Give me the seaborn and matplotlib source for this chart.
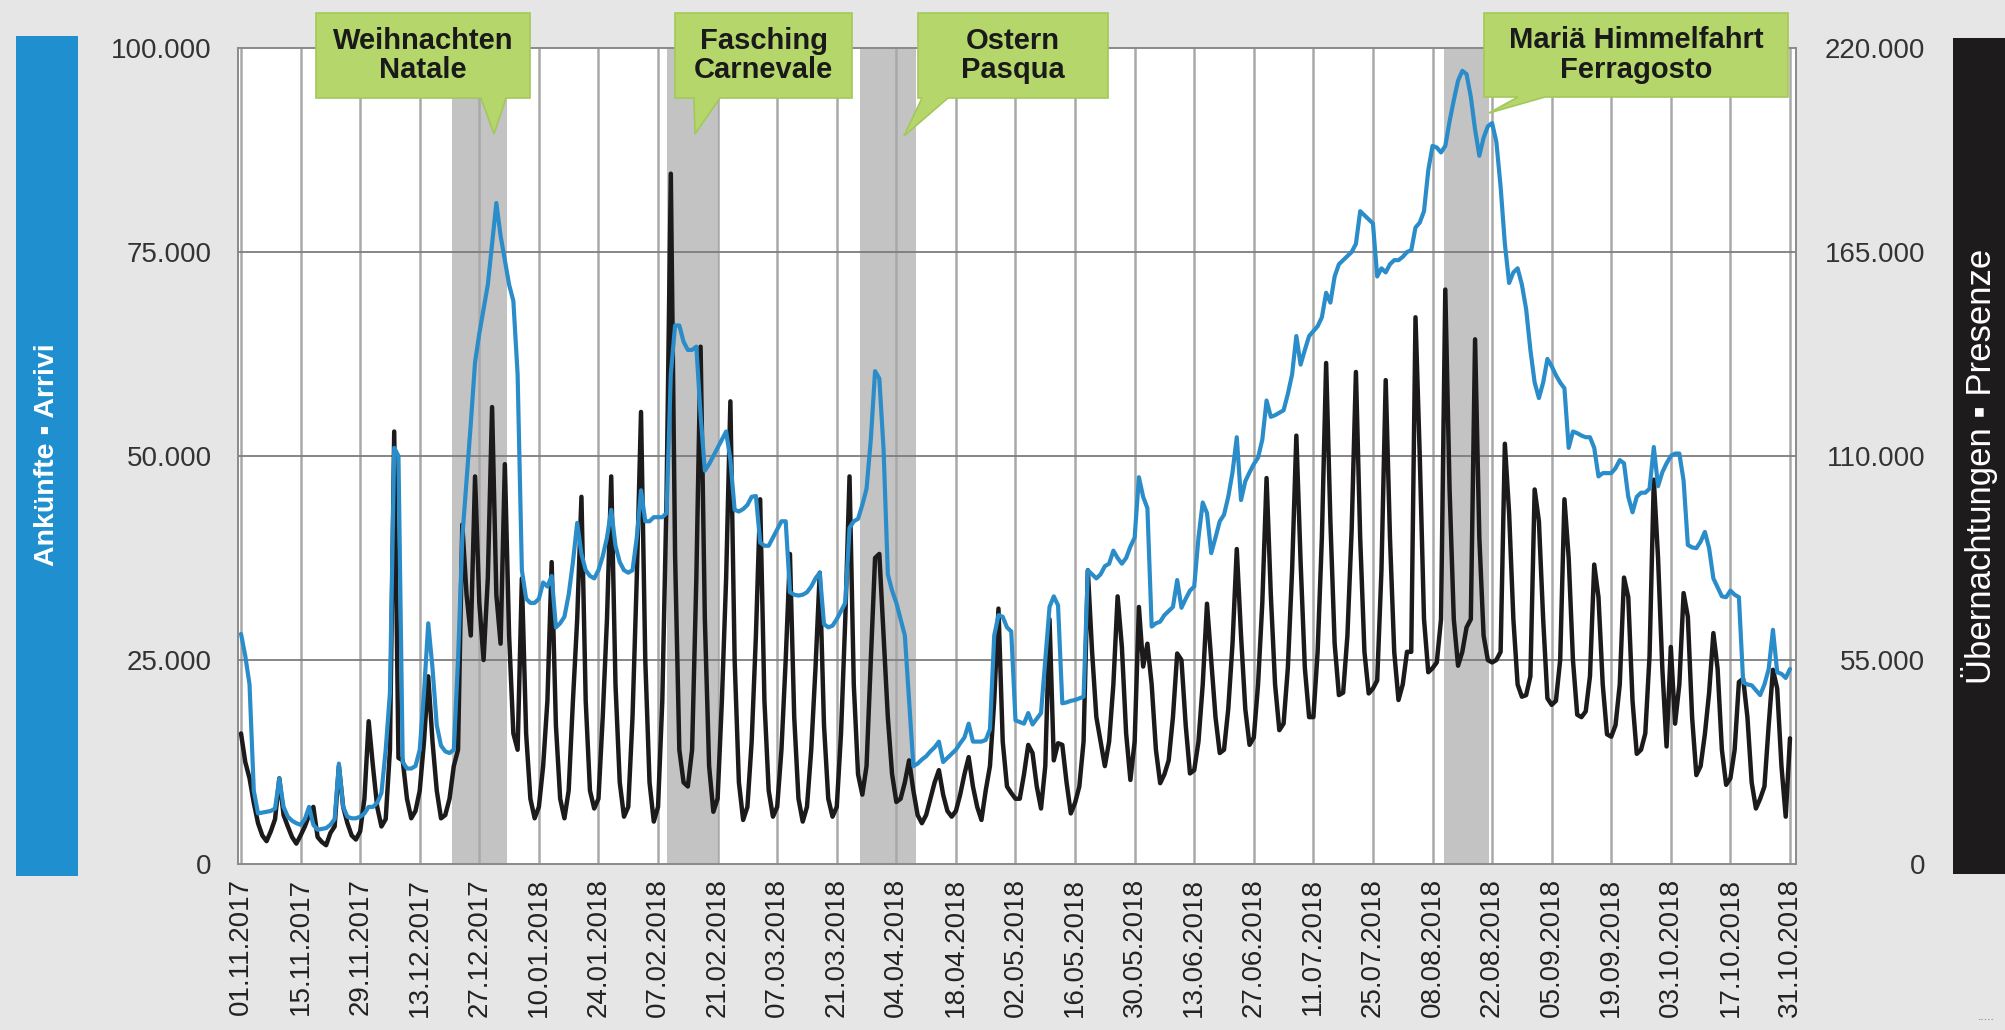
import pandas as pd
import matplotlib
matplotlib.use("Agg")
import matplotlib.pyplot as plt
from matplotlib.patches import Polygon, Rectangle
import seaborn as sns

# daily values, 01.11.2017 - 31.10.2018, in thousands (read against the left scale)
# one row = one week, Wed..Tue
blue_line = [
    28.2, 25.5, 22, 9, 6.2, 6.3, 6.4,
    6.5, 6.8, 10.5, 7, 5.8, 5.3, 5,
    4.8, 5.5, 7, 4.8, 4.2, 4.3, 4.4,
    4.8, 5.5, 12.3, 7, 5.8, 5.6, 5.6,
    5.8, 6.2, 7, 7, 7.5, 8.7, 14,
    21, 51, 50, 12.5, 11.7, 11.7, 12,
    14, 21, 29.5, 24, 17, 14.5, 13.8,
    13.6, 14, 25, 40, 47, 54, 61.5,
    65, 68, 71, 76, 81, 77, 74,
    71, 69, 60, 36, 32.5, 32, 32,
    32.5, 34.5, 34, 35.3, 29, 29.5, 30.3,
    33, 37, 41.8, 38, 36, 35.3, 35,
    36, 37.7, 40, 43.4, 39, 37, 36,
    35.7, 36, 40, 45.8, 42, 42, 42.5,
    42.5, 42.5, 43, 60, 66, 66, 64,
    63, 63, 63.4, 55, 48.2, 49, 50,
    51, 52, 53, 49.5, 43.4, 43.2, 43.5,
    44, 45, 45.1, 39.4, 39, 39, 40,
    41, 42, 42, 33.3, 33, 32.9, 33,
    33.3, 34, 35, 35.7, 29.4, 29, 29.2,
    30, 31, 32, 41.2, 42, 42.3, 44,
    46, 52, 60.4, 59.5, 50.8, 35.5, 33.5,
    32, 30, 28, 20, 12, 12.3, 12.8,
    13.2, 13.8, 14.3, 15, 12.5, 13, 13.5,
    14, 14.8, 15.5, 17.2, 15, 15, 15,
    15.2, 16.5, 28, 30.5, 30.3, 29, 28.5,
    17.6, 17.4, 17.2, 18.5, 17.1, 17.8, 18.5,
    25, 31.5, 32.8, 31.7, 19.7, 19.8, 20,
    20.1, 20.3, 20.5, 36, 35.5, 35, 35.5,
    36.5, 36.8, 38.4, 37.5, 36.8, 37.5, 38.9,
    40, 47.4, 45, 43.6, 29.1, 29.5, 29.7,
    30.5, 31, 31.5, 34.8, 31.4, 32.5, 33.5,
    34, 40, 44.3, 43, 38.1, 40, 42,
    42.8, 45, 48, 52.3, 44.6, 46.9, 48,
    49, 49.8, 52, 56.8, 54.8, 55, 55.3,
    55.6, 57.6, 60, 64.7, 61.2, 63, 64.7,
    65.3, 65.9, 67, 70, 68.8, 72, 73.5,
    74, 74.5, 75, 76, 80, 79.5, 79,
    78.5, 72, 73, 72.5, 73.5, 74, 74,
    74.4, 75, 75.2, 78, 78.6, 80, 85,
    88, 87.8, 87.2, 88, 91, 93.6, 96,
    97.2, 96.8, 94, 90, 86.8, 89, 90.4,
    90.8, 88.5, 83, 76, 71.2, 72.5, 73,
    71, 68, 63, 59, 57.1, 59, 61.9,
    61, 59.9, 59, 58.3, 51, 53, 52.8,
    52.5, 52.3, 52.3, 51, 47.5, 47.9, 47.9,
    47.9, 48.5, 49.5, 49.1, 45, 43.1, 45,
    45.5, 45.5, 46, 51.1, 46.3, 48, 49.1,
    50, 50.3, 50.3, 47, 39.1, 38.8, 38.7,
    39.5, 40.7, 38.7, 35, 33.9, 32.8, 32.7,
    33.5, 33, 32.7, 22.3, 22, 21.9, 21.3,
    20.7, 22, 23.9, 28.7, 23.5, 23.3, 22.8,
    23.9,
]

black_line = [
    16, 12.5, 10.5, 7.5, 5, 3.5, 2.8,
    4, 5.5, 10.5, 6, 4.6, 3.3, 2.5,
    3.5, 4.6, 6, 7, 3.3, 2.7, 2.3,
    3.8, 4.6, 12, 7, 5, 3.5, 3,
    4, 8, 17.5, 12, 7, 4.6, 5.5,
    14, 53, 13, 12.7, 8, 5.6, 6.5,
    9, 15, 23, 15, 9, 5.6, 6,
    8, 12, 14, 41.6, 33, 28, 47.5,
    32, 25, 35, 56, 33, 27, 49,
    28, 16, 14, 35, 16, 8, 5.6,
    7, 12, 20, 37, 17, 8, 5.6,
    9, 20, 30, 45, 20, 9, 6.8,
    8, 18, 30, 47.5, 22, 10, 5.8,
    7, 18, 35, 55.4, 25, 10, 5.2,
    7, 20, 45, 84.6, 38, 14, 10,
    9.5, 14, 35, 63.4, 30, 12, 6.4,
    8, 20, 35, 56.7, 25, 10, 5.4,
    7, 15, 28, 44.7, 20, 9, 5.8,
    7, 14, 25, 38, 18, 8, 5.2,
    7, 14, 24, 35.7, 17, 8, 5.8,
    7, 16, 30, 47.5, 22, 11, 8.5,
    12, 25, 37.5, 38, 28, 18, 11,
    7.6, 8, 10, 12.7, 9, 6, 5,
    6, 8, 10, 11.5, 8.5, 6.5, 5.8,
    6.5, 8.5, 11, 13.1, 9.5, 7, 5.4,
    9, 12, 20, 31.3, 15, 9.5, 8.7,
    8, 8, 11, 14.6, 13.6, 9.5, 6.8,
    12, 30, 12.7, 14.8, 14.6, 10, 6.2,
    7.5, 9.5, 15, 36, 26, 18, 15,
    12, 15, 22, 32.8, 26.6, 16, 10.3,
    15, 31.5, 24.2, 27, 22, 14, 9.9,
    11, 12.7, 18, 25.8, 25, 17, 11.1,
    11.5, 15, 22, 31.9, 25, 18, 13.6,
    14, 19, 27, 38.6, 28, 19, 14.6,
    15.5, 22, 32, 47.3, 33, 22, 16.4,
    17.2, 24, 36, 52.5, 37, 24, 18,
    18, 26, 40, 61.4, 42, 27, 20.7,
    21, 28, 41, 60.3, 40, 26, 20.9,
    21.5, 22.5, 36, 59.3, 40, 26, 20.1,
    22, 26, 26, 67, 50, 30, 23.5,
    24, 24.7, 30, 70.4, 46, 30, 24.3,
    26, 29, 30, 64.3, 40, 28, 25,
    24.7, 25, 26, 51.5, 43, 30, 22,
    20.5, 20.7, 23, 45.9, 42, 30, 20.3,
    19.5, 20, 25, 44.7, 37.5, 25, 18.3,
    18, 18.7, 23, 36.7, 32.7, 22, 15.9,
    15.6, 17, 22, 35.1, 32.7, 20, 13.5,
    14, 16, 25.5, 47.1, 37.5, 24, 14.4,
    26.6, 17.2, 22, 33.2, 30.3, 18, 10.9,
    12, 15.9, 21, 28.3, 23.9, 14, 9.7,
    10.5, 14, 22.3, 22.7, 18, 10, 6.8,
    8, 9.5, 17, 23.8, 21.5, 12, 5.8,
    15.4,
]

left_ticks = [0, 25, 50, 75, 100]
left_labels = ["0", "25.000", "50.000", "75.000", "100.000"]
right_ticks = [0, 55, 110, 165, 220]
right_labels = ["0", "55.000", "110.000", "165.000", "220.000"]

holiday_bands = [
    ("2017-12-20 14:00", "2018-01-02 12:00"),
    ("2018-02-09 02:00", "2018-02-20 22:00"),
    ("2018-03-26 12:00", "2018-04-08 14:00"),
    ("2018-08-10 18:00", "2018-08-21 06:00"),
]
callout_texts = ["Weihnachten\nNatale", "Fasching\nCarnevale", "Ostern\nPasqua",
                 "Mariä Himmelfahrt\nFerragosto"]

dates = pd.date_range("2017-11-01", "2018-10-31", freq="D")
df = pd.DataFrame({"datum": dates, "blue": blue_line, "black": black_line})

sns.set_theme(style="white")
plt.rcParams["font.family"] = ["Liberation Sans", "DejaVu Sans"]

W, H = 2006, 1030
fig = plt.figure(figsize=(W / 100, H / 100), dpi=100, facecolor="#e6e6e6")
ax = fig.add_axes([238 / W, 1 - 864 / H, (1796 - 238) / W, (864 - 48) / H])
ax.set_facecolor("white")

for start, end in holiday_bands:
    ax.axvspan(pd.Timestamp(start), pd.Timestamp(end), color="#c3c3c3", lw=0, zorder=0)

tick_dates = pd.date_range("2017-11-01", "2018-10-31", freq="14D")
for t in tick_dates:
    ax.axvline(t, color="#a9a9a9", lw=1.8, zorder=1)
for y in left_ticks[1:-1]:
    ax.axhline(y, color="#7d7d7d", lw=1.3, zorder=1)

sns.lineplot(data=df, x="datum", y="black", ax=ax, color="#1c1a1a", lw=3.2, zorder=3)
sns.lineplot(data=df, x="datum", y="blue", ax=ax, color="#2a8dc9", lw=3.0, zorder=4)

ax.set_xlim(dates[0] - pd.Timedelta(hours=17), dates[-1] + pd.Timedelta(hours=34))
ax.set_ylim(0, 100)
ax.set_xlabel("")
ax.set_ylabel("")
ax.set_xticks(tick_dates)
ax.set_xticklabels([t.strftime("%d.%m.%Y") for t in tick_dates], rotation=90,
                   fontsize=20, color="#222222")
ax.set_yticks(left_ticks)
ax.set_yticklabels(left_labels, fontsize=20, color="#333333")
ax.tick_params(axis="x", length=0, pad=10)
ax.tick_params(axis="y", length=0, pad=19)
for s in ax.spines.values():
    s.set_color("#8a8a8a")
    s.set_linewidth(1.4)

ax2 = ax.twinx()
ax2.set_ylim(0, 220)
ax2.set_yticks(right_ticks)
ax2.set_yticklabels(right_labels, fontsize=20, color="#333333")
ax2.tick_params(axis="y", length=0, pad=93)
for lab in ax2.get_yticklabels():
    lab.set_horizontalalignment("right")
for s in ax2.spines.values():
    s.set_visible(False)


def fxy(x, y):
    return (x / W, 1 - y / H)


# side bars with axis titles
fig.patches.append(Rectangle(fxy(16, 876), 62 / W, 840 / H, transform=fig.transFigure,
                             facecolor="#1f8fd0", edgecolor="none"))
fig.patches.append(Rectangle(fxy(1953, 874), 60 / W, 836 / H, transform=fig.transFigure,
                             facecolor="#1e1b1c", edgecolor="none"))
fig.text(47 / W, 1 - 455 / H, "Ankünfte ▪ Arrivi", rotation=90, color="white",
         fontsize=20.5, fontweight="bold", ha="center", va="center")
fig.text(1980 / W, 1 - 466 / H, "Übernachtungen ▪ Presenze", rotation=90, color="white",
         fontsize=25, ha="center", va="center")

# callouts: box corners and tail (base-right, tip, base-left) in pixels
boxes = [
    ((316, 13, 530, 98), [(506, 98), (494, 134), (481, 98)]),
    ((675, 13, 852, 98), [(720, 98), (695, 134), (694, 98)]),
    ((918, 13, 1108, 98), [(948, 98), (904, 136), (922, 98)]),
    ((1484, 13, 1788, 97), [(1545, 97), (1489, 113), (1518, 97)]),
]
for (x0, y0, x1, y1), tail in boxes:
    pts = [(x0, y0), (x1, y0), (x1, y1)] + tail + [(x0, y1)]
    fig.patches.append(Polygon([fxy(px, py) for px, py in pts], closed=True,
                               transform=fig.transFigure, facecolor="#b5d66b",
                               edgecolor="#a3c85a", lw=1.2))
for ((x0, y0, x1, y1), _), txt in zip(boxes, callout_texts):
    fig.text((x0 + x1) / 2 / W, 1 - (y0 + y1) / 2 / H, txt, ha="center", va="center",
             fontsize=21, fontweight="bold", color="#1a1a1a", linespacing=1.05)

fig.text(1986 / W, 1 - 1020 / H, ".....", fontsize=9, color="#777777", ha="center")

fig.savefig("out.png", dpi=100, facecolor=fig.get_facecolor())
